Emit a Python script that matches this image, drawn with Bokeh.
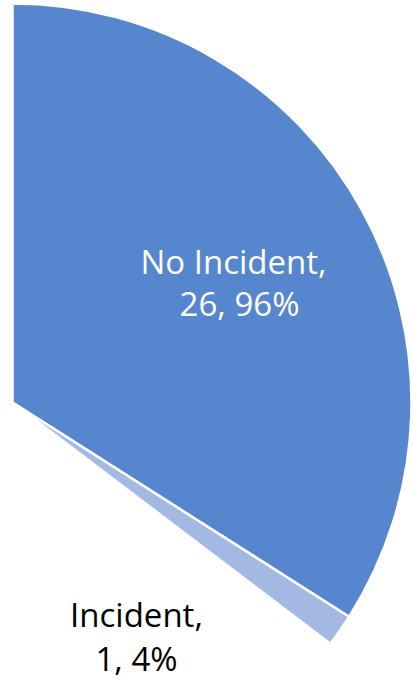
import math
from bokeh.plotting import figure
from bokeh.models import Range1d, ColumnDataSource
from bokeh.core.properties import value
from bokeh.embed import file_html
from bokeh.resources import INLINE

# ---- data ----
categories = ["No Incident", "Incident"]
counts = [26, 1]
colors = ["#5686CE", "#A3B8E3"]
label_colors = ["white", "black"]

W, H = 413, 680
total = sum(counts)
percents = [round(100 * c / total) for c in counts]

# visible fan of the (cropped) pie
cx, cy = 12, H - 402
radius = 399
sweep_deg = 127.2
start_deg = 90.0  # 12 o'clock, slices run clockwise

starts, ends = [], []
cur = start_deg
for c in counts:
    a = sweep_deg * c / total
    ends.append(math.radians(cur))
    starts.append(math.radians(cur - a))
    cur -= a

p = figure(width=W, height=H, x_range=Range1d(0, W), y_range=Range1d(0, H),
           output_backend="svg", toolbar_location=None, min_border=0)
p.axis.visible = False
p.grid.visible = False
p.outline_line_color = None
p.background_fill_color = "white"
p.border_fill_color = "white"

src = ColumnDataSource(dict(start=starts, end=ends, color=colors, cat=categories))
p.wedge(x=cx, y=cy, radius=radius, start_angle="start", end_angle="end",
        direction="anticlock", fill_color="color", line_color="white",
        line_width=2.5, source=src)

# labels: two lines each
line1 = [f"{cat}," for cat in categories]
line2 = [f"{c}, {pc}%" for c, pc in zip(counts, percents)]
lab_x1 = [233, 136]
lab_x2 = [239, 136]
lab_y1 = [H - 261, H - 614]
lab_y2 = [H - 303, H - 658]

texts = line1 + line2
xs = lab_x1 + lab_x2
ys = lab_y1 + lab_y2
tcols = label_colors + label_colors
p.text(x=xs, y=ys, text=texts, text_color=tcols, text_align="center",
       text_baseline="alphabetic", text_font=value("Open Sans"),
       text_font_size="33px")

open("out.html", "w").write(file_html(p, INLINE))
